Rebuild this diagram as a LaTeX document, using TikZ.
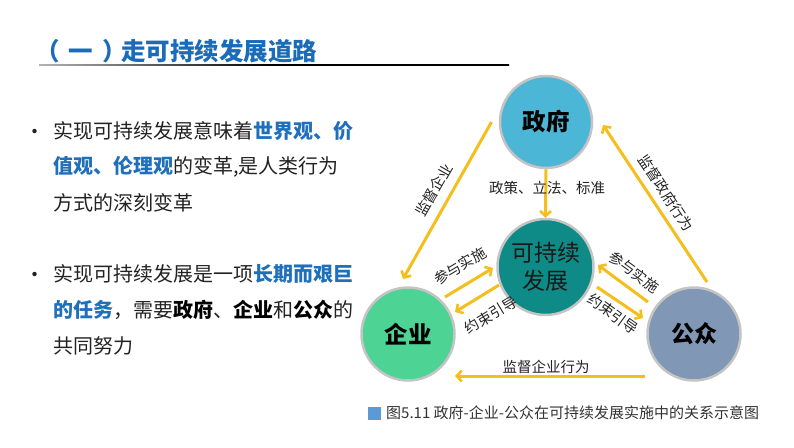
\documentclass[tikz,border=0pt]{standalone}
\usepackage{fontspec}
\setmainfont{Noto Sans CJK SC}
\usetikzlibrary{arrows.meta}
\definecolor{titleblue}{HTML}{1B6CB8}
\definecolor{emblue}{HTML}{1F6FBA}
\definecolor{bodytext}{HTML}{222222}
\definecolor{gold}{HTML}{F4BE1C}
\definecolor{govblue}{HTML}{4BB6D5}
\definecolor{sdteal}{HTML}{0E8B86}
\definecolor{entgreen}{HTML}{4DD393}
\definecolor{pubslate}{HTML}{8097B6}
\definecolor{ringgray}{HTML}{C4C4C4}
\definecolor{capblue}{HTML}{5B9BD5}
\definecolor{captext}{HTML}{333333}
\tikzset{
  circ/.style={circle, draw=ringgray, line width=2.5pt, minimum size=#1, inner sep=0pt},
  garrow/.style={draw=gold, line width=3pt, -{Straight Barb[length=5pt,width=11pt,line width=2.6pt]}},
  alabel/.style={font=\fontsize{14.5}{16}\selectfont, text=bodytext, inner sep=0pt},
  bodyline/.style={anchor=west, font=\fontsize{20}{24}\selectfont, text=bodytext, inner sep=0pt},
  bulletdot/.style={circle, fill=bodytext, minimum size=4.5pt, inner sep=0pt},
}
\newcommand{\blueb}[1]{{\bfseries\color{emblue}#1}}
\newcommand{\blackb}[1]{{\bfseries\color{black}#1}}
\begin{document}
\begin{tikzpicture}[x=1pt,y=1pt]
\useasboundingbox (0,0) rectangle (794,-447);
% title
\node[anchor=west, inner sep=0pt, font=\fontsize{24.5}{28}\selectfont\bfseries, text=titleblue] (title) at (35,-51) {（\hspace{8.5pt}一\hspace{9.5pt}）\hspace{-5.5pt}走可持续发展道路};
\shade[left color=gray!60, right color=black, middle color=black] (39,-64) rectangle (509,-65.5);
% bullets
\node[bulletdot] (b1) at (34.5,-131) {};
\node[bodyline] (l11) at (53,-131) {实现可持续发展意味着\blueb{世界观、价}};
\node[bodyline] (l12) at (53,-167) {\blueb{值观、伦理观}的变革,是人类行为};
\node[bodyline] (l13) at (53,-203) {方式的深刻变革};
\node[bulletdot] (b2) at (34.5,-274) {};
\node[bodyline] (l21) at (53,-274) {实现可持续发展是一项\blueb{长期而艰巨}};
\node[bodyline] (l22) at (53,-310) {\blueb{的任务}，需要\blackb{政府}、\blackb{企业}和\blackb{公众}的};
\node[bodyline] (l23) at (53,-346) {共同努力};
% circles
\node[circ=92pt, fill=govblue, font=\fontsize{23.5}{26}\selectfont\bfseries] (gov) at (546,-122) {政府};
\node[circ=96pt, fill=sdteal, font=\fontsize{23}{29}\selectfont, text=black!90, align=center] (sd) at (545.5,-267) {可持续\\[-1pt]发展};
\node[circ=93pt, fill=entgreen, font=\fontsize{23.5}{26}\selectfont\bfseries] (ent) at (408,-334) {企业};
\node[circ=93pt, fill=pubslate, font=\fontsize{23}{26}\selectfont\bfseries] (pub) at (694,-334) {公众};
% connectors
\coordinate (g1) at (491.5,-122);
\coordinate (e1) at (403,-279);
\coordinate (p1) at (707,-282);
\coordinate (g2) at (603,-125);
\draw[garrow] (gov.south) -- (sd.north);
\node[alabel] (lab0) at (547,-188) {政策、立法、标准};
\draw[garrow] (g1) -- (e1);
\node[alabel, rotate=60.3] (lab1) at (434,-190) {监督企业};
\draw[garrow] (p1) -- (g2);
\node[alabel, rotate=-56.5] (lab2) at (666,-193) {监督政府行为};
\coordinate (p3) at (645,-376);
\coordinate (e3) at (455,-376);
\draw[garrow] (p3) -- (e3);
\node[alabel] (lab3) at (546,-367) {监督企业行为};
% enterprise <-> sd
\coordinate (ea) at (445,-297);
\coordinate (sa) at (493,-268);
\coordinate (sb) at (499,-285);
\coordinate (eb) at (455,-312);
\draw[garrow] (ea) -- (sa);
\draw[garrow] (sb) -- (eb);
\node[alabel, rotate=31] (lab4) at (460,-266) {参与实施};
\node[alabel, rotate=31] (lab5) at (491,-315) {约束引导};
% public <-> sd
\coordinate (pa) at (648,-302);
\coordinate (sc) at (598,-265);
\coordinate (sdd) at (597,-287);
\coordinate (pb) at (643,-318);
\draw[garrow] (pa) -- (sc);
\draw[garrow] (sdd) -- (pb);
\node[alabel, rotate=-36] (lab6) at (634,-272) {参与实施};
\node[alabel, rotate=-36] (lab7) at (613,-314) {约束引导};
% caption
\node[fill=capblue, minimum size=13pt, inner sep=0pt] (capbox) at (374,-413) {};
\node[anchor=west, inner sep=0pt, font=\fontsize{15}{16}\selectfont, text=captext] (cap) at (386,-413) {图5.11 政府-企业-公众在可持续发展实施中的关系示意图};
\end{tikzpicture}
\end{document}
